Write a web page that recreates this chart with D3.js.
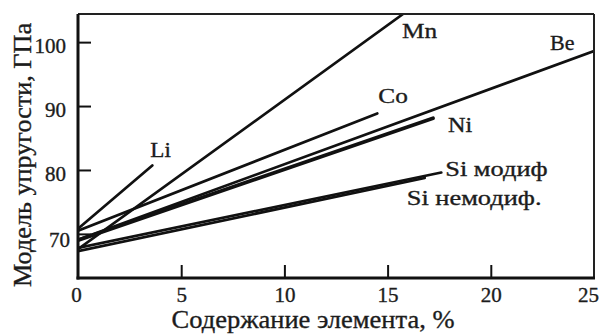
<!DOCTYPE html>
<html>
<head>
<meta charset="utf-8">
<script src="https://cdn.jsdelivr.net/npm/d3@7"></script>
<style>
  html, body { margin: 0; padding: 0; background: #fff; }
  svg { display: block; }
</style>
</head>
<body>
<svg id="chart" width="601" height="335"></svg>
<script>
// ---- data ----
const elements      = ["Li", "Mn", "Co", "Be", "Ni", "Si модиф", "Si немодиф."];
const contentEnd    = [3.6, 15.75, 14.5, 25, 17.2, 17.6, 16.8];      // % at end of each line
const modulusStart  = [70.8, 67.6, 70.5, 69.1, 69.0, 67.8, 67.3];    // GPa at 0 %
const modulusEnd    = [80.7, 104.4, 88.85, 98.6, 88.1, 79.6, 78.75]; // GPa at end
const xTicks        = [0, 5, 10, 15, 20, 25];
const yTicks        = [70, 80, 90, 100];
const xTitle        = "Содержание элемента, %";
const yTitle        = "Модель упругости, ГПа";

// ---- layout (not data) ----
const pL = 78, pR = 594, pT = 14, pB = 278;
const FONT = "'Liberation Serif'";
const INK = "#1c1c1c";
const labelOffset = [[-2, -8], [-1, 24], [1, -10], [-44, -1], [15, 14], [4, 3], [-18, 27]];
const labelStretch = [1.05, 1.15, 1.15, 1.0, 1.1, 1.2, 1.2];
const lineWidth   = [2.7, 2.7, 2.7, 2.7, 3.7, 2.7, 2.7];

const svg = d3.select("#chart");
const x = d3.scaleLinear().domain([0, 25]).range([pL, pR]);
const y = d3.scaleLinear().domain([63.1, 104.4]).range([pB, pT]);

function ink(sel, size) {
  return sel.style("font-family", FONT).style("font-size", size + "px")
    .style("fill", INK).style("stroke", INK).style("stroke-width", "0.35px");
}

svg.append("defs").append("clipPath").attr("id", "clip")
  .append("rect").attr("x", pL).attr("y", pT).attr("width", pR - pL).attr("height", pB - pT);

// lines
const series = elements.map((e, i) => ({
  name: e,
  pts: [[0, modulusStart[i]], [contentEnd[i], modulusEnd[i]]],
  i
}));
const line = d3.line().x(d => x(d[0])).y(d => y(d[1]));
svg.append("g").attr("clip-path", "url(#clip)")
  .selectAll("path").data(series).join("path")
  .attr("d", d => line(d.pts))
  .attr("fill", "none")
  .attr("stroke", "#111")
  .attr("stroke-width", d => lineWidth[d.i])
  .attr("stroke-linecap", "round");

// axes
const xAxis = d3.axisBottom(x).tickValues(xTicks).tickSizeInner(-13).tickSizeOuter(0).tickPadding(9);
const gx = svg.append("g").attr("transform", `translate(0,${pB})`).call(xAxis);
gx.select(".domain").remove();
gx.selectAll(".tick line").attr("stroke", "#111").attr("stroke-width", 2)
  .attr("display", d => (d === 0 || d === 25) ? "none" : null);
ink(gx.selectAll(".tick text"), 21)
  .attr("dx", d => d === 0 ? -2 : (d === 25 ? -6 : 0));

const yAxis = d3.axisLeft(y).tickValues(yTicks).tickSizeInner(-13).tickSizeOuter(0).tickPadding(12);
const gy = svg.append("g").attr("transform", `translate(${pL},0)`).call(yAxis);
gy.select(".domain").remove();
gy.selectAll(".tick line").attr("stroke", "#111").attr("stroke-width", 2);
ink(gy.selectAll(".tick text"), 21)
  .attr("dy", d => d === 70 ? "0.62em" : "0.5em")
  .attr("dx", d => d === 70 ? 4 : 0);

// frame
svg.append("line").attr("x1", pL).attr("x2", pR).attr("y1", pT).attr("y2", pT)
  .attr("stroke", "#222").attr("stroke-width", 2);
svg.append("line").attr("x1", pR).attr("x2", pR).attr("y1", pT).attr("y2", pB)
  .attr("stroke", "#222").attr("stroke-width", 2);
svg.append("line").attr("x1", pL).attr("x2", pL).attr("y1", pT).attr("y2", pB + 1.5)
  .attr("stroke", "#111").attr("stroke-width", 3);
svg.append("line").attr("x1", pL - 1.5).attr("x2", pR + 1).attr("y1", pB).attr("y2", pB)
  .attr("stroke", "#111").attr("stroke-width", 3);

// series labels
ink(svg.append("g").selectAll("text").data(series).join("text"), 22)
  .attr("transform", d =>
    `translate(${x(contentEnd[d.i]) + labelOffset[d.i][0]},${y(modulusEnd[d.i]) + labelOffset[d.i][1]}) scale(${labelStretch[d.i]},1)`)
  .text(d => d.name);

// axis titles
ink(svg.append("text"), 25)
  .attr("x", 313).attr("y", 328)
  .attr("text-anchor", "middle")
  .attr("textLength", 283).attr("lengthAdjust", "spacingAndGlyphs")
  .text(xTitle);
ink(svg.append("text"), 25)
  .attr("transform", `translate(31,155) rotate(-90)`)
  .attr("text-anchor", "middle")
  .attr("textLength", 264).attr("lengthAdjust", "spacingAndGlyphs")
  .text(yTitle);
</script>
</body>
</html>
